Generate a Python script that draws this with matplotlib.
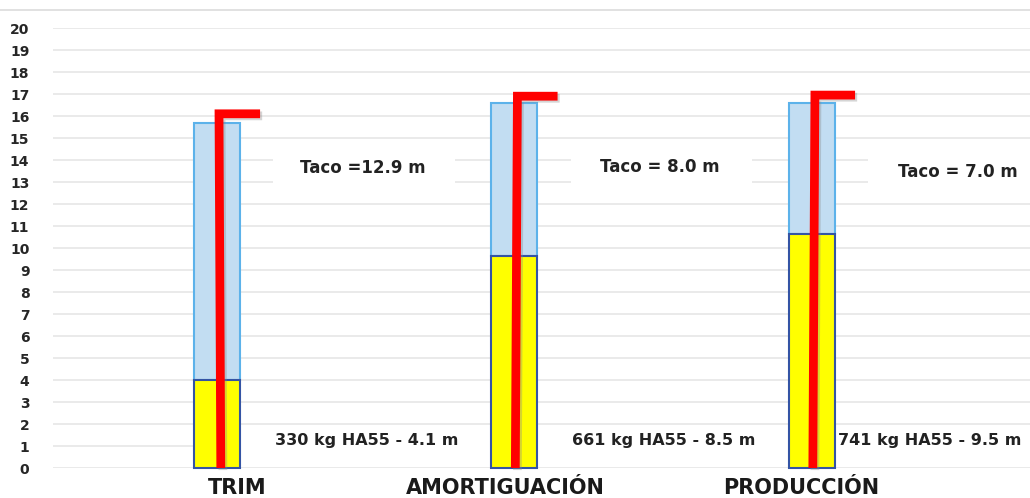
import matplotlib
matplotlib.use("Agg")
import matplotlib.pyplot as plt
import matplotlib.patheffects as pe
from matplotlib.patches import Rectangle
from matplotlib.lines import Line2D
import numpy as np

# Blast-hole columns per zone
categories = ["TRIM", "AMORTIGUACIÓN", "PRODUCCIÓN"]
charge_height = [4.0, 9.65, 10.65]      # explosive column (yellow)
hole_height = [15.7, 16.6, 16.6]        # full hole height (blue)
pipe_top = [16.1, 16.9, 16.95]          # red marker top
stemming_labels = ["Taco =12.9 m", "Taco = 8.0 m", "Taco = 7.0 m"]
charge_labels = ["330 kg HA55 - 4.1 m", "661 kg HA55 - 8.5 m", "741 kg HA55 - 9.5 m"]
y_ticks = list(range(0, 21))

plt.rcParams["font.family"] = ["DejaVu Sans"]
fig = plt.figure(figsize=(10.30, 4.98), dpi=100)
W, H = 1030, 498
ax = fig.add_axes([53 / W, 30 / H, 977 / W, 440 / H])
ax.set_xlim(-0.551, 2.733)
ax.set_ylim(0, 20)

x = np.arange(len(categories))
bar_w = 0.155

# horizontal gridlines
for v in y_ticks:
    ax.axhline(v, color="#e6e6e6", lw=1.2, zorder=0)

# white panels behind the annotations
for i in x:
    ax.add_patch(Rectangle((i + 0.19, 12.45), 0.61, 2.1, facecolor="white",
                           edgecolor="none", zorder=1))
    ax.add_patch(Rectangle((i + 0.08, 0.5), 0.84, 1.0, facecolor="white",
                           edgecolor="none", zorder=1))

# columns
stem = np.array(hole_height) - np.array(charge_height)
ax.bar(x, stem, bottom=charge_height, width=bar_w, color="#c2ddf2",
       edgecolor="#5cb2ea", linewidth=1.5, zorder=3)
ax.bar(x, charge_height, width=bar_w, color="#ffff00", edgecolor="#3454a4",
       linewidth=1.5, zorder=3.5, clip_on=False)

# red marker lines
x_bottom_off = [0.013, 0.003, 0.003]
x_top_off = [0.007, 0.010, 0.010]
for i in x:
    xs = [i + x_bottom_off[i], i + x_top_off[i], i + 0.145]
    ys = [0, pipe_top[i], pipe_top[i]]
    ax.plot(xs, ys, color="#ff0000", lw=6.3, solid_joinstyle="miter",
            solid_capstyle="butt", zorder=5, clip_on=False,
            path_effects=[pe.SimpleLineShadow(offset=(1.5, -1.5), shadow_color="#888888", alpha=0.35),
                          pe.Normal()])

# annotations
stem_y = [13.64, 13.68, 13.45]
for i in x:
    ax.text(i + 0.49, stem_y[i], stemming_labels[i], ha="center", va="center",
            fontsize=12, fontweight="bold", color="#222222", zorder=4)
charge_x = [0.195, 1.193, 2.087]
for i in x:
    ax.text(charge_x[i], 1.27, charge_labels[i], ha="left", va="center",
            fontsize=11.5, fontweight="bold", color="#222222", zorder=4,
            clip_on=False)

# category names
cat_off = [0.067, -0.03, -0.037]
for i in x:
    ax.text(i + cat_off[i], -0.046, categories[i], transform=ax.get_xaxis_transform(),
            ha="center", va="center", fontsize=15, fontweight="bold", color="#1a1a1a")

ax.set_yticks(y_ticks)
ax.set_yticklabels([str(v) for v in y_ticks], fontsize=10, fontweight="bold", color="#262626")
ax.tick_params(axis="y", length=0, pad=17)
ax.set_xticks([])
for s in ax.spines.values():
    s.set_visible(False)

# chart frame line at the top
fig.add_artist(Line2D([0, 1], [1 - 10 / H, 1 - 10 / H], transform=fig.transFigure,
                      color="#dcdcdc", lw=1.2))

fig.savefig("out.png", dpi=100, facecolor="white")
